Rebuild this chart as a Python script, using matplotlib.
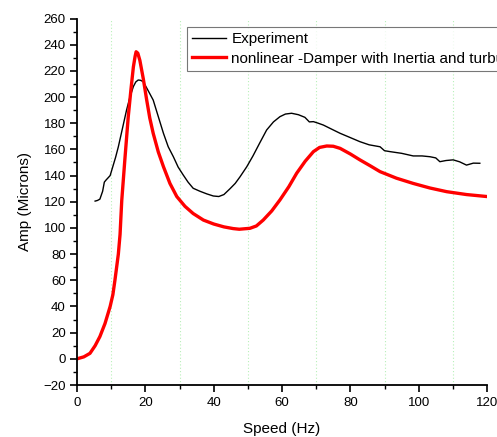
import matplotlib
matplotlib.use("Agg")
import matplotlib.pyplot as plt
from matplotlib.ticker import MultipleLocator

plt.rcParams['font.family'] = ['Liberation Sans', 'DejaVu Sans']

exp_x = [5.3, 6.0, 6.7, 7.5, 8.0, 8.5, 9.0, 9.7, 10.5, 11.3, 12.1, 13.3, 14.5, 15.5, 16.5, 17.2, 17.9, 18.6, 19.4,
         20.8, 22.3, 23.8, 25.3, 26.7, 28.2, 29.6, 31.1, 32.5, 34.0, 36.0, 38.0, 39.9, 41.5, 43.0, 44.8,
         46.3, 47.7, 49.7, 51.5, 53.5, 55.5, 57.5, 59.4, 61.0, 62.8, 64.8, 66.7, 68.0, 69.2, 70.6, 72.1,
         74.5, 77.0, 80.0, 82.8, 85.5, 88.7, 90.0, 91.6, 95.0, 98.4, 101.0, 103.3, 105.0, 106.2, 108.0,
         110.1, 112.0, 114.0, 116.0, 117.9]
exp_y = [120.5, 121.0, 122.0, 128.0, 135.0, 136.6, 138.0, 140.0, 147.0, 154.0, 162.0, 176.0, 190.0, 200.0, 208.0,
         211.5, 213.0, 212.8, 211.7, 205.0, 197.7, 185.0, 172.3, 162.0, 154.4, 146.5, 140.4, 135.0, 130.3,
         128.0, 126.0, 124.4, 124.0, 125.5, 130.0, 134.0, 139.0, 146.8, 155.0, 165.0, 174.8, 181.0, 185.0,
         187.0, 187.6, 186.5, 184.5, 181.0, 181.2, 180.0, 178.6, 175.5, 172.3, 169.0, 165.9, 163.5, 162.0,
         159.0, 158.3, 157.0, 155.0, 155.0, 154.4, 153.5, 150.6, 151.5, 152.0, 150.5, 148.0, 149.5, 149.4]

mod_x = [0.0, 2.0, 3.8, 5.3, 6.7, 8.2, 9.7, 10.5, 11.1, 12.1, 12.6, 13.1, 14.0, 15.0, 15.8, 16.5, 17.0, 17.3,
         17.8, 18.4, 19.4, 20.4, 21.3, 22.3, 23.8, 25.3, 27.2, 29.2, 31.6, 34.0, 37.0, 40.0, 43.0, 45.7,
         47.5, 50.6, 52.5, 54.5, 57.0, 59.4, 62.0, 64.3, 66.8, 69.2, 71.0, 73.1, 75.0, 77.0, 80.0, 82.8,
         85.8, 88.7, 93.5, 98.4, 103.3, 108.2, 114.0, 119.9]
mod_y = [0.0, 1.5, 4.2, 10.0, 17.0, 27.0, 40.0, 49.0, 60.0, 80.0, 95.0, 121.0, 152.0, 185.0, 206.0, 223.0, 231.0,
         234.6, 233.5, 228.0, 214.0, 197.7, 184.0, 172.3, 158.0, 146.8, 134.0, 124.0, 116.5, 111.0, 106.0,
         103.0, 100.8, 99.5, 99.0, 99.7, 101.5, 106.0, 113.0, 121.4, 131.5, 141.8, 151.0, 158.3, 161.5,
         162.6, 162.4, 160.8, 156.5, 152.0, 147.5, 143.0, 138.0, 134.0, 130.5, 127.7, 125.5, 124.0]

fig = plt.figure(figsize=(4.97, 4.37), dpi=100)
ax = fig.add_axes([77/497, 1 - 385/437, 410/497, 366.5/437])

ax.plot(exp_x, exp_y, color='black', lw=1.0, label='Experiment')
ax.plot(mod_x, mod_y, color='#ff0000', lw=2.4, label='nonlinear -Damper with Inertia and turbulence')

ax.set_xlim(0, 120)
ax.set_ylim(-20, 260)
ax.xaxis.set_major_locator(MultipleLocator(20))
ax.xaxis.set_minor_locator(MultipleLocator(10))
ax.yaxis.set_major_locator(MultipleLocator(20))
ax.yaxis.set_minor_locator(MultipleLocator(10))
for gx in [10, 30, 50, 70, 90, 110]:
    ax.axvline(gx, color='#b8f0b8', lw=0.8, ls=(0, (1, 2)), zorder=0)

ax.spines['top'].set_visible(False)
ax.spines['right'].set_visible(False)
ax.spines['left'].set_linewidth(1.3)
ax.spines['bottom'].set_linewidth(1.3)
ax.tick_params(which='major', direction='out', length=5, width=1.2, labelsize=9.5, colors='black')
ax.tick_params(which='minor', direction='out', length=3, width=1.0)
ax.tick_params(axis='x', pad=4)
ax.tick_params(axis='y', pad=3)

ax.set_xlabel('Speed (Hz)', fontsize=11, labelpad=9)
ax.set_ylabel('Amp (Microns)', fontsize=11, labelpad=8)

leg = fig.legend(loc='upper left', bbox_to_anchor=(187/497, 1 - 27/437), fontsize=11,
                 frameon=True, fancybox=False, edgecolor='#555555', handlelength=2.2,
                 handletextpad=0.35, borderpad=0.35, labelspacing=0.35, borderaxespad=0)
leg.get_frame().set_linewidth(0.8)

fig.savefig('out.png', dpi=100)
